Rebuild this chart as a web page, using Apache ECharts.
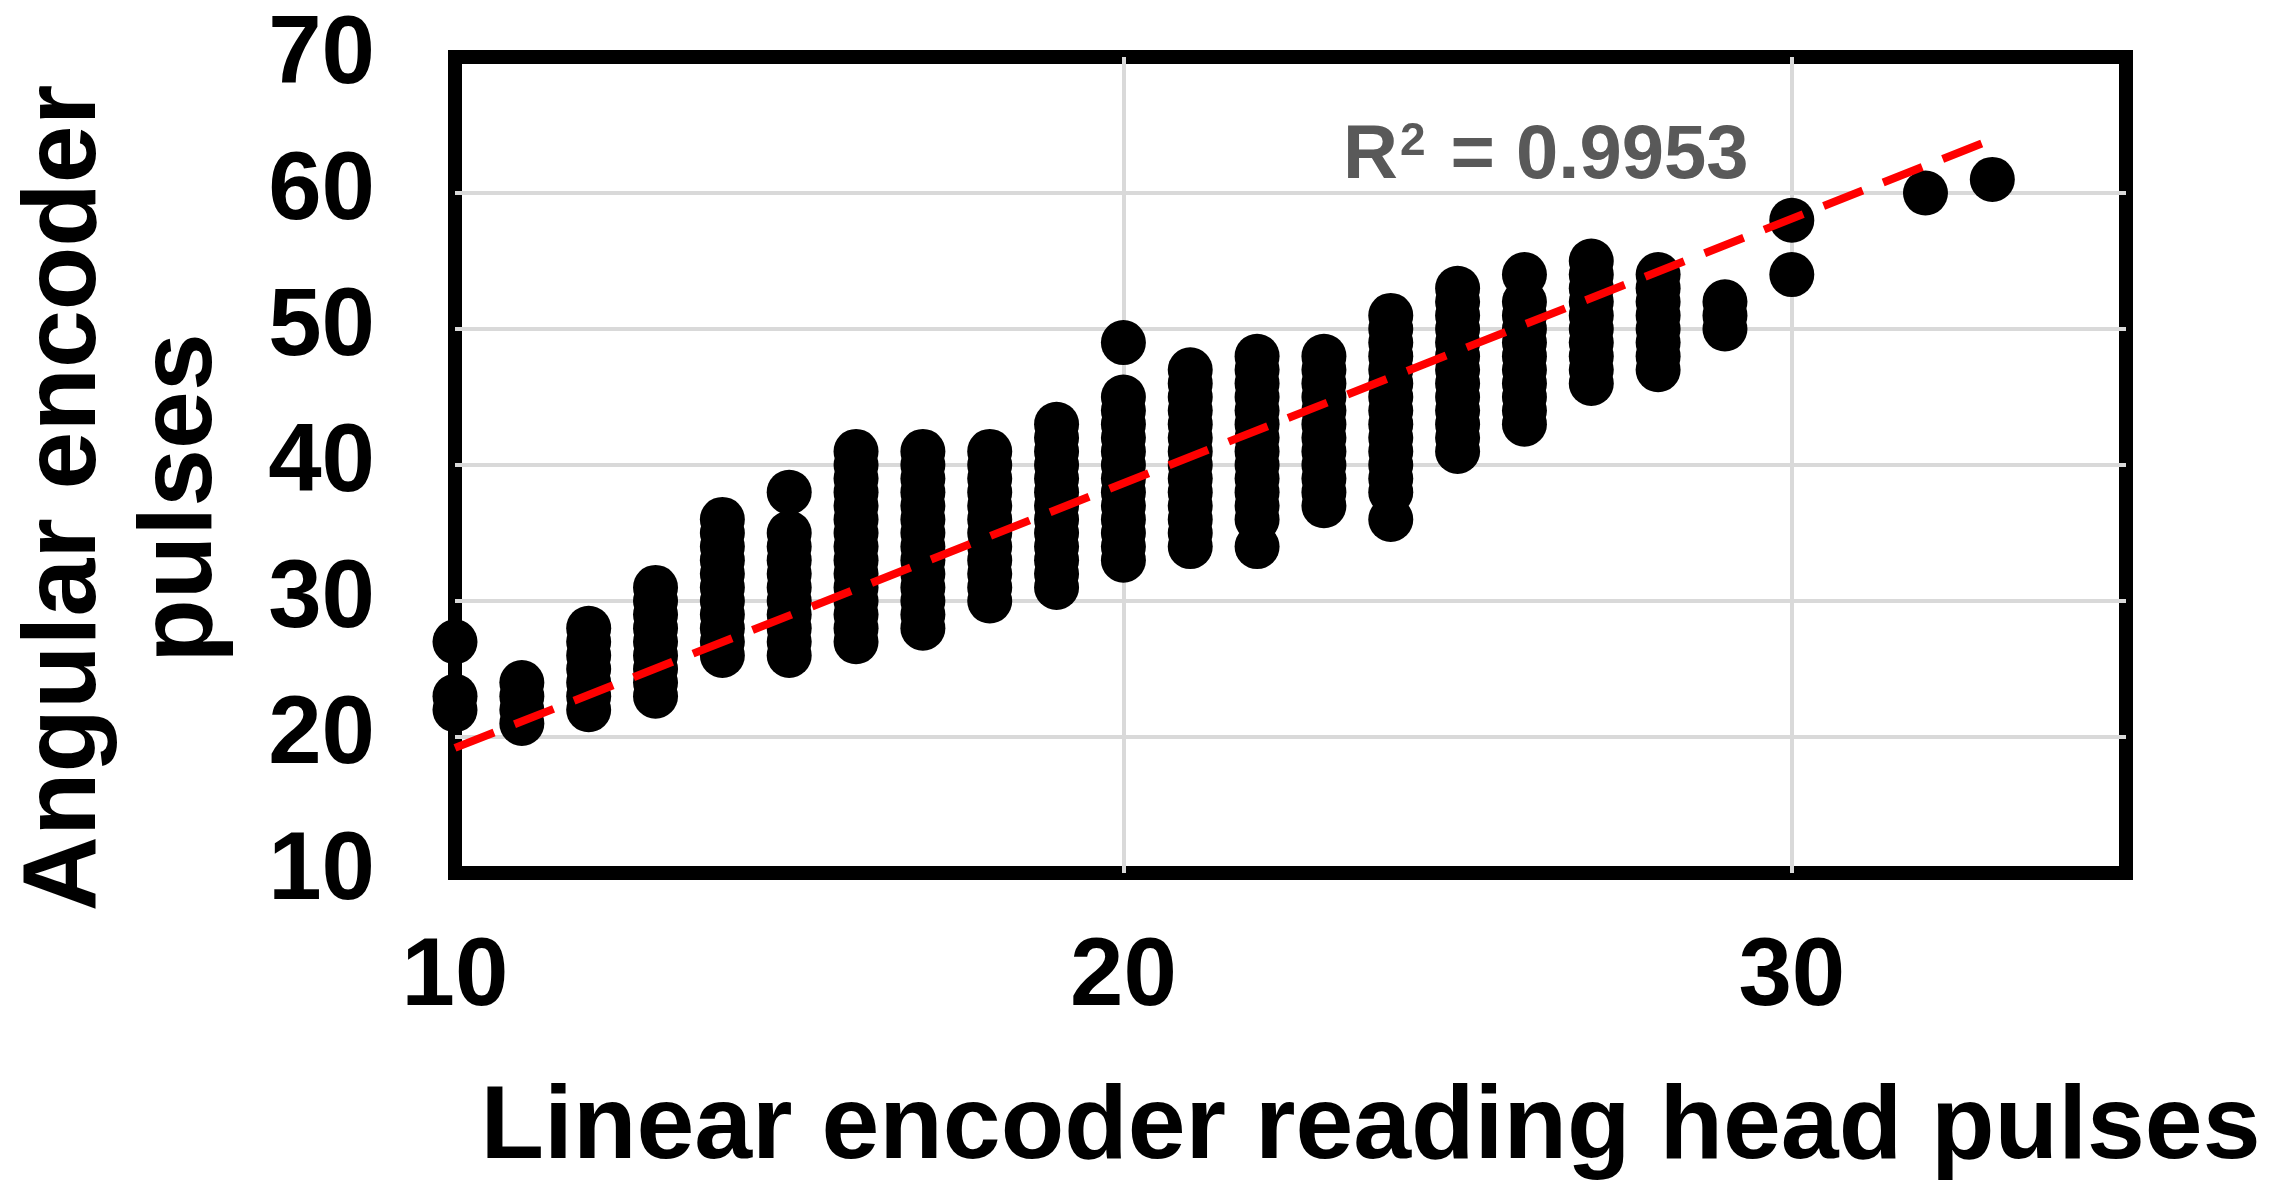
<!DOCTYPE html>
<html>
<head>
<meta charset="utf-8">
<script src="https://cdn.jsdelivr.net/npm/echarts@6/dist/echarts.min.js"></script>
<style>
  html, body { margin: 0; padding: 0; background: #fff; }
  #main { width: 2279px; height: 1197px; }
</style>
</head>
<body>
<div id="main"></div>
<script>
// linear encoder pulses (x) and the angular encoder pulses recorded at each one (y)
const linearPulses = [10, 11, 12, 13, 14, 15, 16, 17, 18, 19, 20, 21, 22, 23, 24, 25, 26, 27, 28, 29, 30, 32, 33]
const angularPulses = [
  [22, 23, 27],
  [21, 22, 23, 24],
  [22, 23, 24, 25, 26, 27, 28],
  [23, 24, 25, 26, 27, 28, 29, 30, 31],
  [26, 27, 28, 29, 30, 31, 32, 33, 34, 35, 36],
  [26, 27, 28, 29, 30, 31, 32, 33, 34, 35, 38],
  [27, 28, 29, 30, 31, 32, 33, 34, 35, 36, 37, 38, 39, 40, 41],
  [28, 29, 30, 31, 32, 33, 34, 35, 36, 37, 38, 39, 40, 41],
  [30, 31, 32, 33, 34, 35, 36, 37, 38, 39, 40, 41],
  [31, 32, 33, 34, 35, 36, 37, 38, 39, 40, 41, 42, 43],
  [33, 34, 35, 36, 37, 38, 39, 40, 41, 42, 43, 44, 45, 49],
  [34, 35, 36, 37, 38, 39, 40, 41, 42, 43, 44, 45, 46, 47],
  [34, 36, 37, 38, 39, 40, 41, 42, 43, 44, 45, 46, 47, 48],
  [37, 38, 39, 40, 41, 42, 43, 44, 45, 46, 47, 48],
  [36, 38, 39, 40, 41, 42, 43, 44, 45, 46, 47, 48, 49, 50, 51],
  [41, 42, 43, 44, 45, 46, 47, 48, 49, 50, 51, 52, 53],
  [43, 44, 45, 46, 47, 48, 49, 50, 51, 52, 54],
  [46, 47, 48, 49, 50, 51, 52, 53, 54, 55],
  [47, 48, 49, 50, 51, 52, 53, 54],
  [50, 51, 52],
  [54, 58],
  [60],
  [61]
]
// linear trendline end points
const trendX = [10, 33]
const trendY = [19.2, 63.95]
const rSquared = '0.9953'

const xTicks = [10, 20, 30]
const yTicks = [10, 20, 30, 40, 50, 60, 70]

const font = "'Liberation Sans', Arial, Helvetica, sans-serif"

const points = []
linearPulses.forEach((x, i) => {
  angularPulses[i].forEach(y => points.push([x, y]))
})
const trend = trendX.map((x, i) => [x, trendY[i]])

const chart = echarts.init(document.getElementById('main'))
chart.setOption({
  animation: false,
  backgroundColor: '#fff',
  title: {
    text: 'R{sup|2} = ' + rSquared,
    left: 1338,
    top: 114,
    textStyle: {
      fontFamily: font,
      fontWeight: 'bold',
      fontSize: 76,
      color: '#595959',
      rich: {
        sup: {
          fontFamily: font,
          fontWeight: 'bold',
          fontSize: 46,
          color: '#595959',
          verticalAlign: 'top',
          padding: [0, 4, 30, 2]
        }
      }
    }
  },
  grid: {
    left: 449,
    top: 57,
    width: 1677,
    height: 816,
    show: true,
    borderColor: '#000',
    borderWidth: 14,
    backgroundColor: 'transparent'
  },
  xAxis: {
    type: 'value',
    min: 10,
    max: 35,
    interval: 10,
    name: 'Linear encoder reading head pulses',
    nameLocation: 'middle',
    nameGap: 204,
    nameTextStyle: {
      fontFamily: font,
      fontWeight: 'bold',
      fontSize: 104,
      color: '#000',
      padding: [0, 0, 0, 160]
    },
    axisLine: { show: false },
    axisTick: { show: false },
    axisLabel: {
      margin: 58,
      fontFamily: font,
      fontWeight: 'bold',
      fontSize: 96,
      color: '#000',
      formatter: v => (xTicks.indexOf(v) >= 0 ? String(v) : '')
    },
    splitLine: {
      show: true,
      showMinLine: false,
      showMaxLine: false,
      lineStyle: { color: '#d9d9d9', width: 4 }
    }
  },
  yAxis: {
    type: 'value',
    min: 10,
    max: 70,
    interval: 10,
    name: 'Angular encoder\npulses',
    nameLocation: 'middle',
    nameRotate: 90,
    nameGap: 215,
    nameTextStyle: {
      fontFamily: font,
      fontWeight: 'bold',
      fontSize: 104,
      lineHeight: 116,
      color: '#000',
      align: 'center',
      padding: [0, 66, 0, 0]
    },
    axisLine: { show: false },
    axisTick: { show: false },
    axisLabel: {
      margin: 80,
      fontFamily: font,
      fontWeight: 'bold',
      fontSize: 96,
      color: '#000',
      formatter: v => (yTicks.indexOf(v) >= 0 ? String(v) : '')
    },
    splitLine: {
      show: true,
      showMinLine: false,
      showMaxLine: false,
      lineStyle: { color: '#d9d9d9', width: 4 }
    }
  },
  series: [
    {
      name: 'pulses',
      type: 'scatter',
      data: points,
      symbol: 'circle',
      symbolSize: 45,
      clip: false,
      itemStyle: { color: '#000', opacity: 1 },
      z: 2
    },
    {
      name: 'trend',
      type: 'line',
      data: trend,
      symbol: 'none',
      showSymbol: false,
      clip: false,
      lineStyle: { color: '#ff0000', width: 8, type: [42, 22] },
      z: 3
    }
  ]
})
</script>
</body>
</html>
